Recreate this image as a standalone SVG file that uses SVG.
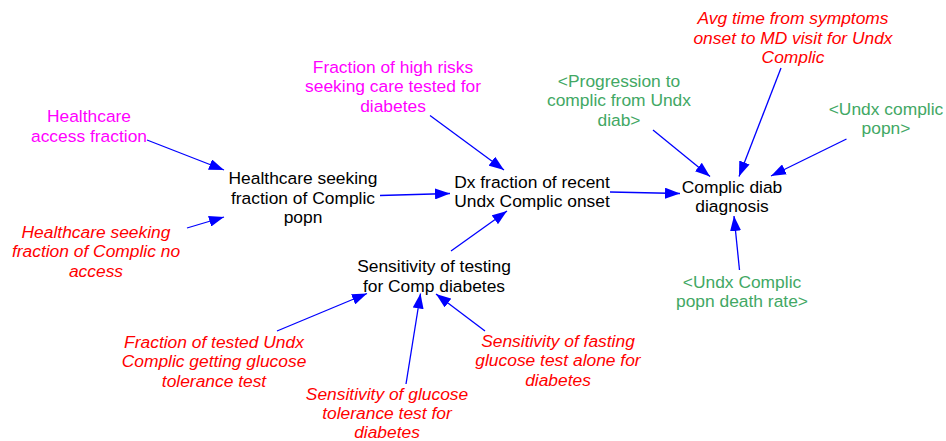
<svg xmlns="http://www.w3.org/2000/svg" width="946" height="441" viewBox="0 0 946 441">
  <style>
    text { font-family: "Liberation Sans", Arial, sans-serif; font-size: 17.4px; text-anchor: middle; }
    .aux { fill: #000000; }
    .input { fill: #FF00FF; }
    .param { fill: #FF0000; font-style: italic; }
    .shadow { fill: #42A864; }
    .link { stroke: #0000FF; stroke-width: 1.3; fill: none; marker-end: url(#head); }
  </style>
  <defs>
    <marker id="head" markerUnits="userSpaceOnUse" markerWidth="15" markerHeight="11" refX="15" refY="5.5" orient="auto">
      <path d="M0,0 L15,5.5 L0,11 z" fill="#0000FF"/>
    </marker>
  </defs>
  <rect width="946" height="441" fill="#FFFFFF"/>

  <g id="connectors">
    <line class="link" x1="147" y1="140" x2="224" y2="170"/>
    <line class="link" x1="187" y1="228" x2="224" y2="217"/>
    <line class="link" x1="380" y1="195.5" x2="450" y2="193.5"/>
    <line class="link" x1="430" y1="115.5" x2="504" y2="170"/>
    <line class="link" x1="451" y1="251" x2="507" y2="211"/>
    <line class="link" x1="610" y1="192" x2="680" y2="193.5"/>
    <line class="link" x1="653" y1="130" x2="710" y2="176.5"/>
    <line class="link" x1="781" y1="68" x2="739" y2="176.5"/>
    <line class="link" x1="846.5" y1="139" x2="771" y2="176"/>
    <line class="link" x1="739.5" y1="270" x2="734" y2="216"/>
    <line class="link" x1="277" y1="331" x2="367" y2="293.5"/>
    <line class="link" x1="406" y1="384" x2="420.5" y2="293.5"/>
    <line class="link" x1="485" y1="331" x2="436" y2="294"/>
  </g>

  <g id="healthcare-access-fraction">
    <text class="input" x="89" y="122">Healthcare</text>
    <text class="input" x="89" y="141.5">access fraction</text>
  </g>
  <g id="healthcare-seeking-fraction">
    <text class="aux" x="303" y="184">Healthcare seeking</text>
    <text class="aux" x="303" y="203.5">fraction of Complic</text>
    <text class="aux" x="303" y="223">popn</text>
  </g>
  <g id="healthcare-seeking-no-access">
    <text class="param" x="96" y="237.5">Healthcare seeking</text>
    <text class="param" x="96" y="257">fraction of Complic no</text>
    <text class="param" x="96" y="276.5">access</text>
  </g>
  <g id="fraction-high-risks-tested">
    <text class="input" x="393" y="72.5">Fraction of high risks</text>
    <text class="input" x="393" y="92">seeking care tested for</text>
    <text class="input" x="393" y="111.5">diabetes</text>
  </g>
  <g id="dx-fraction-recent-onset">
    <text class="aux" x="532" y="187.5">Dx fraction of recent</text>
    <text class="aux" x="532" y="207">Undx Complic onset</text>
  </g>
  <g id="sensitivity-testing-comp">
    <text class="aux" x="434" y="272">Sensitivity of testing</text>
    <text class="aux" x="434" y="291.5">for Comp diabetes</text>
  </g>
  <g id="fraction-tested-glucose-tolerance">
    <text class="param" x="214" y="347.5">Fraction of tested Undx</text>
    <text class="param" x="214" y="367">Complic getting glucose</text>
    <text class="param" x="214" y="386.5">tolerance test</text>
  </g>
  <g id="sensitivity-glucose-tolerance">
    <text class="param" x="387" y="399.5">Sensitivity of glucose</text>
    <text class="param" x="387" y="419">tolerance test for</text>
    <text class="param" x="387" y="438">diabetes</text>
  </g>
  <g id="sensitivity-fasting-glucose">
    <text class="param" x="558" y="346.5">Sensitivity of fasting</text>
    <text class="param" x="558" y="366">glucose test alone for</text>
    <text class="param" x="558" y="385.5">diabetes</text>
  </g>
  <g id="avg-time-symptoms-to-md">
    <text class="param" x="793" y="24">Avg time from symptoms</text>
    <text class="param" x="793" y="43.5">onset to MD visit for Undx</text>
    <text class="param" x="793" y="63">Complic</text>
  </g>
  <g id="progression-to-complic">
    <text class="shadow" x="619" y="86.5">&lt;Progression to</text>
    <text class="shadow" x="619" y="106">complic from Undx</text>
    <text class="shadow" x="619" y="125.5">diab&gt;</text>
  </g>
  <g id="undx-complic-popn">
    <text class="shadow" x="886" y="114.5">&lt;Undx complic</text>
    <text class="shadow" x="886" y="134">popn&gt;</text>
  </g>
  <g id="complic-diab-diagnosis">
    <text class="aux" x="732" y="192.5">Complic diab</text>
    <text class="aux" x="732" y="212">diagnosis</text>
  </g>
  <g id="undx-complic-popn-death-rate">
    <text class="shadow" x="742" y="287.5">&lt;Undx Complic</text>
    <text class="shadow" x="742" y="307">popn death rate&gt;</text>
  </g>
</svg>
